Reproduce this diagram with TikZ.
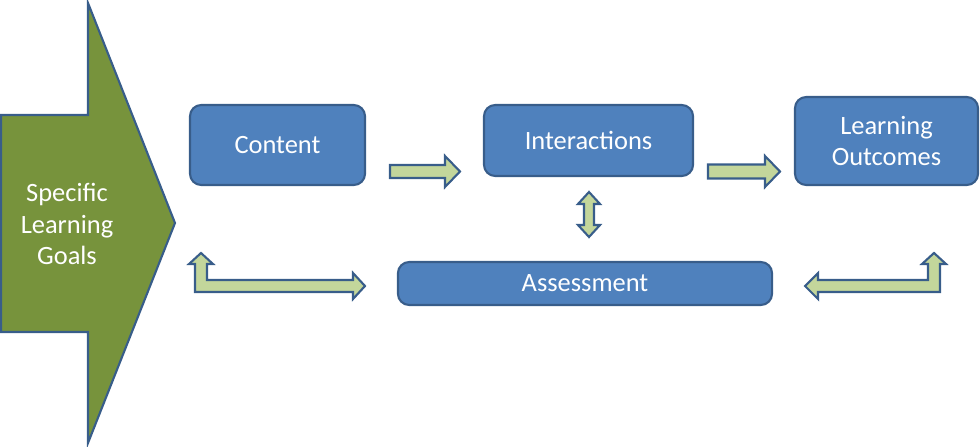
\documentclass[tikz,border=0pt]{standalone}
\usepackage{fontspec}
\setmainfont{Carlito}
\usepackage{xcolor}
\usepackage{tikz}
\usetikzlibrary{positioning, calc}

\definecolor{boxblue}{HTML}{4F81BD}
\definecolor{boxline}{HTML}{385D8A}
\definecolor{goalgreen}{HTML}{77933C}
\definecolor{arrowfill}{HTML}{C3D69B}

\begin{document}
\begin{tikzpicture}[
    x=0.025cm, y=-0.025cm,
    font=\fontsize{18.8}{22.5}\selectfont,
    block/.style={draw=boxline, fill=boxblue, line width=1.5pt, rounded corners=8pt,
                  text=white, align=center, inner sep=0pt},
    fatarrow/.style={draw=boxline, fill=arrowfill, line width=1.5pt, line join=miter},
    goalarrow/.style={draw=boxline, fill=goalgreen, line width=1.5pt, line join=miter}
]
\useasboundingbox (0,0) rectangle (980,447);

% big goal arrow
\draw[goalarrow] (1,115) -- (88,115) -- (88,3) -- (175,223) -- (88,443) -- (88,332) -- (1,332) -- cycle;
\node[text=white, align=center] (goals) at (67,224) {Specific\\Learning\\Goals};

% boxes
\node[block, minimum width=4.375cm, minimum height=2cm]     (content)  at (277.5,145)   {Content};
\node[block, minimum width=5.225cm, minimum height=1.775cm] (interact) at (588.5,140.5) {Interactions};
\node[block, minimum width=4.575cm, minimum height=2.2cm]   (outcomes) at (886.5,141)   {Learning\\Outcomes};
\node[block, minimum width=9.35cm,  minimum height=1.075cm] (assess)   at (585,283.5)   {Assessment};

% content -> interactions
\draw[fatarrow] (390,165) -- (445,165) -- (445,156) -- (460,171.5) -- (445,187) -- (445,178) -- (390,178) -- cycle;
% interactions -> outcomes
\draw[fatarrow] (708,164.5) -- (765,164.5) -- (765,156) -- (780,171.5) -- (765,187) -- (765,178.5) -- (708,178.5) -- cycle;
% interactions <-> assessment
\draw[fatarrow] (589,192) -- (600,204) -- (594,204) -- (594,225) -- (600,225) -- (589,237)
    -- (578,225) -- (584,225) -- (584,204) -- (578,204) -- cycle;
% content <-> assessment
\draw[fatarrow] (195,292) -- (195,264) -- (189,264) -- (201,253) -- (213,264) -- (207,264) -- (207,280)
    -- (353,280) -- (353,273) -- (365,286) -- (353,299) -- (353,292) -- cycle;
% assessment <-> outcomes
\draw[fatarrow] (940,292) -- (940,264) -- (946,264) -- (934,253) -- (922,264) -- (928,264) -- (928,280)
    -- (818,280) -- (818,273) -- (805,286) -- (818,299) -- (818,292) -- cycle;
\end{tikzpicture}
\end{document}
